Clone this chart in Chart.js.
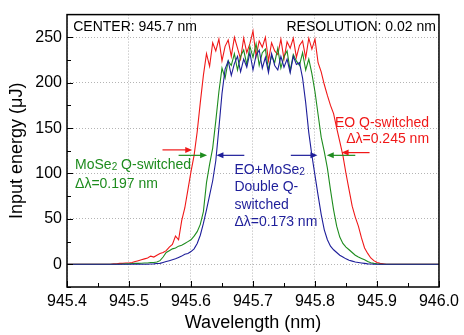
<!DOCTYPE html>
<html><head><meta charset="utf-8">
<script src="https://cdn.jsdelivr.net/npm/chart.js@4"></script>
<style>html,body{margin:0;padding:0;background:#fff}canvas{display:block}</style>
</head><body>
<canvas id="c" width="464" height="335"></canvas>
<script>
// ---- data ----
const wavelength = [945.40,
 945.450,945.455,945.460,945.465,945.470,945.475,945.480,945.485,945.490,945.495,
 945.500,945.505,945.510,945.515,945.520,945.525,945.530,945.535,945.540,945.545,
 945.550,945.555,945.560,945.565,945.570,945.575,945.580,945.585,945.590,945.595,
 945.600,945.605,945.610,945.615,945.620,945.625,945.630,945.635,945.640,945.645,
 945.650,945.655,945.660,945.665,945.670,945.675,945.680,945.685,945.690,945.695,
 945.700,945.705,945.710,945.715,945.720,945.725,945.730,945.735,945.740,945.745,
 945.750,945.755,945.760,945.765,945.770,945.775,945.780,945.785,945.790,945.795,
 945.800,945.805,945.810,945.815,945.820,945.825,945.830,945.835,945.840,945.845,
 945.850,945.855,945.860,945.865,945.870,945.875,945.880,945.885,945.890,945.895,
 945.900,945.905,945.910,945.915,945.920,945.925,945.930,945.935,945.940,945.945,
 945.950,
 946.00];

const eoQ = [0,
 0,0,0,0,0,0.5,0.5,1,1,1.5,
 1.5,2,3,4,5,6,7,9,8,10,
 12,13,15,19,22,31,27,48,62,82,
 102,120,146,178,208,232,218,244,235,248,
 224,240,247,229,250,238,226,249,233,243,
 257,229,246,239,250,224,244,235,231,248,
 226,245,238,249,228,241,246,227,249,237,
 248,222,212,198,186,175,166,150,135,120,
 100,82,64,52,42,29,18,12,7,4,
 2,1,0.5,0,0,0,0,0,0,0,
 0,
 0];

const moseQ = [0,
 0,0,0,0,0,0,0,0,0.3,0.5,
 0.5,0.8,1,1,1.2,1.5,1.5,2,2,2.5,
 4,8,13,15,17,18,20,21,23,25,
 27,31,36,44,58,90,110,128,158,190,
 216,205,224,219,232,214,229,236,220,240,
 228,243,219,233,237,214,230,222,238,216,
 229,235,213,231,224,219,233,214,226,210,
 190,165,140,124,106,82,60,42,30,23,
 19,16,13,10,8,6.5,5,3,1.8,1,
 0.5,0.2,0,0,0,0,0,0,0,0,
 0,
 0];

const doubleQ = [0,
 0,0,0,0,0,0,0,0,0,0,
 0,0,0,0,0,0,0,0.3,0.5,0.8,
 1,2,3,4,5,6,7.5,9,11,12,
 14,17,23,32,45,60,76,92,114,150,
 188,215,224,208,221,229,212,226,217,233,
 214,230,236,216,228,211,232,219,214,229,
 217,226,211,229,220,222,205,178,145,120,
 98,76,55,38,27,20,16,13,10,8,
 6,4.5,3.5,2.5,2,1.5,1,0.5,0.3,0,
 0,0,0,0,0,0,0,0,0,0,
 0,
 0];

const xTicks = [945.4,945.5,945.6,945.7,945.8,945.9,946.0];
const xMinorTicks = [945.45,945.55,945.65,945.75,945.85,945.95];
const yTicks = [0,50,100,150,200,250];
const yMinorTicks = [-25,25,75,125,175,225];
const seriesNames = ['EO Q-switched','MoSe2 Q-switched','EO+MoSe2 Double Q-switched'];

// ---- styling ----
const FONT = '"Liberation Sans", Arial, Helvetica, sans-serif';
const RED = '#f01818', GREEN = '#1e8c1e', BLUE = '#1e1e9a';

const arrows = [
  {from:945.554, to:945.602, y:126, color:RED},
  {from:945.580, to:945.626, y:120, color:GREEN},
  {from:945.686, to:945.641, y:120, color:BLUE},
  {from:945.761, to:945.804, y:120, color:BLUE},
  {from:945.865, to:945.819, y:120, color:GREEN},
  {from:945.888, to:945.843, y:123, color:RED}
];
const notes = [
  {x:945.41, y:261, align:'left', color:'#000', parts:[['CENTER: 945.7 nm']]},
  {x:945.995, y:261, align:'right', color:'#000', parts:[['RESOLUTION: 0.02 nm']]},
  {x:945.984, y:155, align:'right', color:RED, parts:[['EO Q-switched']]},
  {x:945.984, y:138, align:'right', color:RED, parts:[['\u0394\u03bb=0.245 nm']]},
  {x:945.413, y:109, align:'left', color:GREEN, parts:[['MoSe'],['2',1],[' Q-switched']]},
  {x:945.413, y:88, align:'left', color:GREEN, parts:[['\u0394\u03bb=0.197 nm']]},
  {x:945.670, y:104, align:'left', color:BLUE, parts:[['EO+MoSe'],['2',1]]},
  {x:945.670, y:85, align:'left', color:BLUE, parts:[['Double Q-']]},
  {x:945.670, y:65, align:'left', color:BLUE, parts:[['switched']]},
  {x:945.670, y:46, align:'left', color:BLUE, parts:[['\u0394\u03bb=0.173 nm']]}
];

const toPts = arr => arr.map((v,i)=>({x:wavelength[i], y:v}));

const framePlugin = {
  id:'frame',
  afterDatasetsDraw(chart){
    const ctx = chart.ctx, a = chart.chartArea;
    const xs = chart.scales.x, ys = chart.scales.y;
    ctx.save();
    // ticks (inward)
    ctx.strokeStyle = '#000'; ctx.lineWidth = 1;
    ctx.beginPath();
    xTicks.forEach(v=>{const p=Math.round(xs.getPixelForValue(v))+0.5; ctx.moveTo(p,a.bottom); ctx.lineTo(p,a.bottom-6);});
    xMinorTicks.forEach(v=>{const p=Math.round(xs.getPixelForValue(v))+0.5; ctx.moveTo(p,a.bottom); ctx.lineTo(p,a.bottom-4);});
    yTicks.forEach(v=>{const p=Math.round(ys.getPixelForValue(v))+0.5; ctx.moveTo(a.left,p); ctx.lineTo(a.left+6,p);});
    yMinorTicks.forEach(v=>{const p=Math.round(ys.getPixelForValue(v))+0.5; ctx.moveTo(a.left,p); ctx.lineTo(a.left+4,p);});
    ctx.stroke();
    // frame
    ctx.lineWidth = 1.5;
    ctx.strokeRect(a.left, a.top, a.right-a.left, a.bottom-a.top);
    // arrows
    arrows.forEach(ar=>{
      const x1 = xs.getPixelForValue(ar.from), x2 = xs.getPixelForValue(ar.to), y = ys.getPixelForValue(ar.y);
      const dir = x2 > x1 ? 1 : -1;
      ctx.strokeStyle = ar.color; ctx.fillStyle = ar.color; ctx.lineWidth = 1.2;
      ctx.beginPath(); ctx.moveTo(x1,y); ctx.lineTo(x2-dir*5,y); ctx.stroke();
      ctx.beginPath(); ctx.moveTo(x2,y); ctx.lineTo(x2-dir*7,y-3); ctx.lineTo(x2-dir*7,y+3); ctx.closePath(); ctx.fill();
    });
    // text notes
    ctx.textBaseline = 'middle';
    notes.forEach(n=>{
      const fs = 14, ss = 10;
      let widths = n.parts.map(p=>{ctx.font = (p[1]?ss:fs)+'px '+FONT; return ctx.measureText(p[0]).width;});
      const total = widths.reduce((s,w)=>s+w,0);
      let x = xs.getPixelForValue(n.x); const y = ys.getPixelForValue(n.y);
      if (n.align === 'right') x -= total;
      ctx.fillStyle = n.color; ctx.textAlign = 'left';
      n.parts.forEach((p,i)=>{
        ctx.font = (p[1]?ss:fs)+'px '+FONT;
        ctx.fillText(p[0], x, p[1] ? y+2 : y);
        x += widths[i];
      });
    });
    ctx.restore();
  }
};

new Chart(document.getElementById('c').getContext('2d'), {
  type:'line',
  data:{datasets:[
    {label:seriesNames[0], data:toPts(eoQ), borderColor:RED, backgroundColor:RED, borderWidth:1.1, pointRadius:0, tension:0, order:3},
    {label:seriesNames[1], data:toPts(moseQ), borderColor:GREEN, backgroundColor:GREEN, borderWidth:1.1, pointRadius:0, tension:0, order:2},
    {label:seriesNames[2], data:toPts(doubleQ), borderColor:BLUE, backgroundColor:BLUE, borderWidth:1.1, pointRadius:0, tension:0, order:1}
  ]},
  options:{
    responsive:false, animation:false, devicePixelRatio:1,
    layout:{padding:{left:0,right:23,top:11,bottom:0}},
    plugins:{legend:{display:false}, tooltip:{enabled:false}},
    scales:{
      x:{type:'linear', min:945.4, max:946.0,
        afterBuildTicks:s=>{s.ticks = xTicks.map(v=>({value:v}));},
        afterFit:s=>{s.height = 48;},
        ticks:{callback:v=>Number(v).toFixed(1), font:{family:FONT,size:16}, color:'#000', padding:5, maxRotation:0, autoSkip:false},
        grid:{color:'#b4b4b4', lineWidth:1, drawTicks:false},
        border:{display:false, dash:[1,2]},
        title:{display:true, text:'Wavelength (nm)', font:{family:FONT,size:18}, color:'#000', padding:{top:0,bottom:1}}
      },
      y:{type:'linear', min:-25, max:275,
        afterBuildTicks:s=>{s.ticks = yTicks.map(v=>({value:v}));},
        afterFit:s=>{s.width = 67;},
        ticks:{font:{family:FONT,size:16}, color:'#000', padding:5, autoSkip:false},
        grid:{color:'#b4b4b4', lineWidth:1, drawTicks:false},
        border:{display:false, dash:[1,2]},
        title:{display:true, text:'Input energy (\u03bcJ)', font:{family:FONT,size:18}, color:'#000', padding:{top:6,bottom:0}}
      }
    }
  },
  plugins:[framePlugin]
});
</script>
</body></html>
